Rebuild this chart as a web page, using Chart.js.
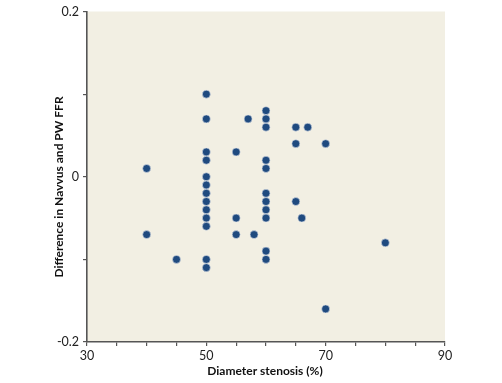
<!DOCTYPE html>
<html><head><meta charset="utf-8">
<script src="https://cdn.jsdelivr.net/npm/chart.js@4"></script>
<style>html,body{margin:0;padding:0;background:#fff}#w{width:502px;height:383px}</style>
</head><body><div id="w"><canvas id="c"></canvas></div>
<script>
const xValues = [50,50,57,50,55,50,40,50,50,50,50,50,50,50,55,40,55,45,50,50,
                 60,60,60,65,67,65,70,60,60,60,60,60,60,65,66,58,60,60,80,70];
const yValues = [0.10,0.07,0.07,0.03,0.03,0.02,0.01,0,-0.01,-0.02,-0.03,-0.04,-0.05,-0.06,-0.05,-0.07,-0.07,-0.10,-0.10,-0.11,
                 0.08,0.07,0.06,0.06,0.06,0.04,0.04,0.02,0.01,-0.02,-0.03,-0.04,-0.05,-0.03,-0.05,-0.07,-0.09,-0.10,-0.08,-0.16];
const xTickLabels = [30,50,70,90];
const yTickLabels = [-0.2,0,0.2];
const xTitle = 'Diameter stenosis (%)';
const yTitle = 'Difference in Navvus and PW FFR';

const pts = xValues.map((x,i)=>({x:x,y:yValues[i]}));
const FONT = 'Lato, "Open Sans", sans-serif';

const bgPlugin = {
  id:'bg',
  beforeDraw(chart){
    const {ctx,chartArea:a} = chart;
    ctx.save(); ctx.fillStyle='#F2EFE3';
    ctx.fillRect(a.left,a.top,a.right-a.left,a.bottom-a.top); ctx.restore();
  },
  afterDraw(chart){
    const {ctx,chartArea:a} = chart;
    ctx.save();
    ctx.fillStyle='#111';
    ctx.font='bold 12px '+FONT;
    ctx.textAlign='center'; ctx.textBaseline='middle';
    ctx.fillText(xTitle,265,371);
    ctx.translate(59,187); ctx.rotate(-Math.PI/2);
    ctx.fillText(yTitle,0,0);
    ctx.restore();
  }
};

new Chart(document.getElementById('c'),{
  type:'scatter',
  data:{datasets:[{data:pts,backgroundColor:'#1F4A7F',borderColor:'#dfe3ea',borderWidth:0.6,pointRadius:4,pointHoverRadius:4}]},
  options:{
    responsive:true,maintainAspectRatio:false,animation:false,
    layout:{padding:{left:0,right:57,top:10,bottom:0}},
    plugins:{legend:{display:false},tooltip:{enabled:false}},
    scales:{
      x:{type:'linear',min:30,max:90,
        afterFit(s){s.height=41;},
        ticks:{stepSize:5,autoSkip:false,maxRotation:0,color:'#222',font:{family:FONT,size:12.5},padding:2,
          callback:v=>xTickLabels.includes(v)?String(v):''},
        grid:{drawOnChartArea:false,drawTicks:true,tickLength:4,color:'#555',lineWidth:1.2},
        border:{display:true,color:'#555',width:1.6}
      },
      y:{type:'linear',min:-0.2,max:0.2,
        afterFit(s){s.width=87;},
        ticks:{stepSize:0.1,autoSkip:false,color:'#222',font:{family:FONT,size:12.5},padding:4,
          callback:v=>{const r=Math.round(v*10)/10; return yTickLabels.some(t=>Math.abs(t-r)<1e-9 && Math.abs(v-t)<1e-6)?String(r):'';}},
        grid:{drawOnChartArea:false,drawTicks:true,tickLength:4,color:'#555',lineWidth:1.2},
        border:{display:true,color:'#555',width:1.6}
      }
    }
  },
  plugins:[bgPlugin]
});
</script></body></html>
